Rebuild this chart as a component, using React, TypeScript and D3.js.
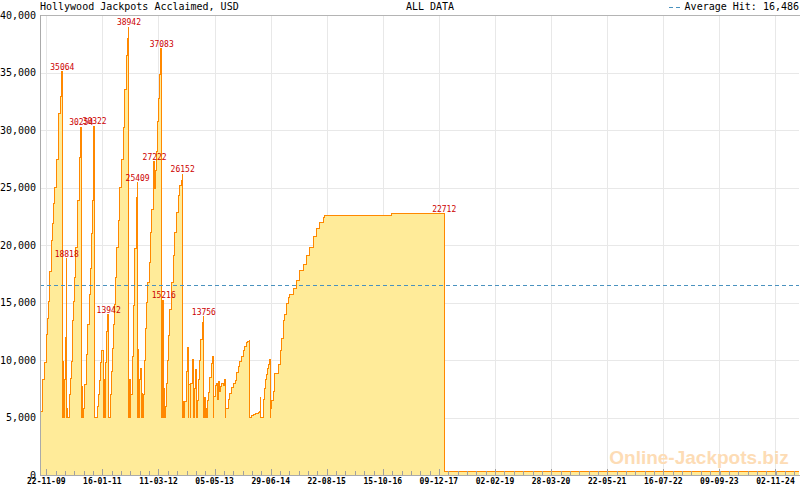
import React, { useMemo } from 'react';
import * as d3 from 'd3';

// jackpot history (date, USD)
const run2009: [string, number][] = [
  ['2009-10-06', 5500], ['2009-10-23', 7000], ['2009-10-28', 8300], ['2009-11-10', 9800],
  ['2009-11-22', 12200], ['2009-12-01', 13600], ['2009-12-10', 15100], ['2009-12-18', 17700],
  ['2009-12-29', 20400], ['2010-01-09', 21900], ['2010-01-16', 23600], ['2010-01-24', 25000],
  ['2010-02-05', 27400], ['2010-02-18', 29700], ['2010-02-25', 31400], ['2010-03-07', 32900],
  ['2010-03-14', 34300], ['2010-03-19', 35064],
  ['2010-03-22', 5000], ['2010-03-27', 9900], ['2010-04-01', 5000], ['2010-04-06', 8300],
  ['2010-04-13', 12000], ['2010-04-21', 18818], ['2010-04-24', 5000], ['2010-04-28', 5800],
  ['2010-05-03', 5000],
];

const run2010: [string, number][] = [
  ['2010-05-16', 7000], ['2010-05-24', 8400], ['2010-05-28', 9900], ['2010-06-05', 11600],
  ['2010-06-10', 13400], ['2010-06-17', 15100], ['2010-06-23', 17200], ['2010-06-30', 19800],
  ['2010-07-10', 22100], ['2010-07-17', 23900], ['2010-07-25', 25300], ['2010-07-30', 27600],
  ['2010-08-06', 30254],
  ['2010-08-11', 5000], ['2010-08-16', 7700], ['2010-08-22', 5000],
  ['2010-08-26', 5800], ['2010-09-05', 7900], ['2010-09-17', 10500], ['2010-09-30', 13100],
  ['2010-10-08', 15700], ['2010-10-17', 18000], ['2010-10-25', 21000], ['2010-11-01', 23900],
  ['2010-11-07', 25300], ['2010-11-12', 27600], ['2010-11-14', 30322],
  ['2010-11-19', 5000], ['2010-12-07', 5500], ['2010-12-14', 6000], ['2010-12-21', 7000],
  ['2010-12-29', 8200], ['2011-01-05', 9800], ['2011-01-13', 10800], ['2011-01-23', 5000],
  ['2011-01-28', 8300], ['2011-02-04', 5000], ['2011-02-09', 9800], ['2011-02-17', 12500],
  ['2011-02-27', 13942], ['2011-03-04', 5000],
];

const run2011: [string, number][] = [
  ['2011-03-19', 7000], ['2011-03-24', 9000], ['2011-03-31', 11000], ['2011-04-07', 13100],
  ['2011-04-15', 14800], ['2011-04-22', 17200], ['2011-05-03', 19800], ['2011-05-13', 22100],
  ['2011-05-25', 25000], ['2011-06-06', 27400], ['2011-06-21', 30200], ['2011-07-04', 33500],
  ['2011-07-17', 36500], ['2011-07-24', 38000], ['2011-07-29', 38942],
  ['2011-08-03', 5000], ['2011-08-08', 8300], ['2011-08-13', 5000],
  ['2011-08-18', 7000], ['2011-08-26', 10300], ['2011-09-04', 14700], ['2011-09-12', 17900],
  ['2011-09-17', 19700], ['2011-09-25', 21900], ['2011-09-30', 24100], ['2011-10-04', 25409],
  ['2011-10-07', 5000], ['2011-10-12', 10900], ['2011-10-17', 5000], ['2011-10-22', 8300],
  ['2011-10-30', 9300], ['2011-11-06', 5000], ['2011-11-11', 7100], ['2011-11-16', 5000],
];

const run2012: [string, number][] = [
  ['2011-11-21', 7000], ['2011-11-26', 10000], ['2011-12-06', 12700], ['2011-12-14', 15000],
  ['2011-12-21', 16700], ['2011-12-31', 18500], ['2012-01-09', 21100], ['2012-01-20', 23100],
  ['2012-01-30', 24900], ['2012-02-06', 27222], ['2012-02-11', 24900], ['2012-02-19', 26500],
  ['2012-02-26', 28100], ['2012-03-02', 30700], ['2012-03-09', 32700], ['2012-03-17', 34800],
  ['2012-03-24', 36200], ['2012-03-29', 37083],
  ['2012-04-04', 5000], ['2012-04-08', 12400], ['2012-04-13', 15216], ['2012-04-19', 5000],
  ['2012-04-23', 7500], ['2012-04-28', 5000],
  ['2012-05-04', 6000], ['2012-05-11', 8000], ['2012-05-19', 10000], ['2012-05-28', 12100],
  ['2012-06-05', 14400], ['2012-06-18', 16700], ['2012-06-30', 19100], ['2012-07-12', 21100],
  ['2012-07-25', 22800], ['2012-08-06', 24300], ['2012-08-19', 25200], ['2012-08-29', 25600],
  ['2012-09-05', 26152],
  ['2012-09-08', 5000], ['2012-09-12', 6400], ['2012-09-20', 5000], ['2012-09-25', 6400],
  ['2012-10-03', 9000], ['2012-10-12', 11060], ['2012-10-18', 5000], ['2012-10-25', 7900],
  ['2012-11-02', 5000], ['2012-11-09', 8000], ['2012-11-19', 10070], ['2012-11-26', 5000],
  ['2012-12-02', 7500], ['2012-12-14', 9200], ['2012-12-22', 5000],
];

const run2013: [string, number][] = [
  ['2012-12-26', 6500], ['2013-01-03', 8300], ['2013-01-13', 10000], ['2013-01-23', 11800],
  ['2013-02-02', 13300], ['2013-02-09', 13756],
  ['2013-02-14', 5000], ['2013-02-20', 6700], ['2013-02-24', 5000], ['2013-03-01', 5800],
  ['2013-03-07', 5000], ['2013-03-11', 6500], ['2013-03-22', 7200], ['2013-03-31', 8500],
  ['2013-04-13', 9700], ['2013-04-21', 10340], ['2013-04-25', 5000], ['2013-04-30', 6800],
  ['2013-05-10', 7800], ['2013-05-20', 8000], ['2013-05-28', 6600], ['2013-06-02', 8100],
  ['2013-06-09', 7300], ['2013-06-16', 7700], ['2013-06-27', 8000], ['2013-07-09', 7800],
  ['2013-07-19', 8300], ['2013-07-27', 5000],
  ['2013-07-29', 5800], ['2013-08-15', 6600], ['2013-08-28', 7100], ['2013-09-10', 7600],
  ['2013-09-22', 8000], ['2013-10-05', 8200], ['2013-10-17', 8900], ['2013-10-29', 9400],
  ['2013-11-11', 9900], ['2013-11-24', 10300], ['2013-12-06', 10800], ['2013-12-18', 11200],
  ['2013-12-31', 11500], ['2014-01-10', 11600], ['2014-01-20', 11710],
  ['2014-01-25', 5000], ['2014-02-09', 5150], ['2014-02-24', 5250], ['2014-03-11', 5350],
  ['2014-03-26', 5450], ['2014-04-07', 5550], ['2014-04-12', 6760], ['2014-04-17', 5000],
  ['2014-05-04', 5800], ['2014-05-09', 6600], ['2014-05-17', 7500], ['2014-05-24', 8300],
  ['2014-05-29', 8700], ['2014-06-06', 9300], ['2014-06-11', 9600], ['2014-06-18', 10070],
  ['2014-06-24', 5000],
];

const run2014: [string, number][] = [
  ['2014-06-29', 5800], ['2014-07-06', 6500], ['2014-07-18', 7300], ['2014-07-31', 8800],
  ['2014-08-25', 9600], ['2014-09-07', 10800], ['2014-09-19', 11900], ['2014-10-01', 13400],
  ['2014-10-14', 14000], ['2014-10-27', 14900], ['2014-11-08', 15400], ['2014-11-20', 15700],
  ['2014-12-15', 16200], ['2015-01-09', 16900], ['2015-02-03', 17800], ['2015-02-28', 18300],
  ['2015-03-25', 19100], ['2015-04-19', 19800], ['2015-05-14', 20700], ['2015-06-08', 21400],
  ['2015-07-03', 22000], ['2015-07-28', 22400], ['2015-08-09', 22550], ['2016-12-21', 22712],
  ['2018-01-18', 300], ['2025-04-27', 300],
];

const peakLabels = [35064, 18818, 30254, 30322, 13942, 38942, 25409, 27222, 37083, 15216, 26152, 13756, 22712];

const axisDates = [
  '2009-11-22', '2011-01-16', '2012-03-11', '2013-05-05', '2014-06-29', '2015-08-22', '2016-10-15',
  '2017-12-09', '2019-02-02', '2020-03-28', '2021-05-22', '2022-07-16', '2023-09-09', '2024-11-02',
];

const averageHit = 16486;
const chartTitle = 'Hollywood Jackpots Acclaimed, USD';
const rangeTitle = 'ALL DATA';

const parse = d3.timeParse('%Y-%m-%d');
const mono = "'DejaVu Sans Mono', monospace";

export default function App() {
  const width = 800;
  const height = 490;
  const left = 40;
  const right = 799;
  const top = 15;
  const bottom = 475;

  const data = useMemo(
    () =>
      [...run2009, ...run2010, ...run2011, ...run2012, ...run2013, ...run2014].map(([d, v]) => ({
        date: parse(d) as Date,
        value: v,
      })),
    []
  );

  const x = d3.scaleTime()
    .domain([parse('2009-10-06') as Date, parse('2025-04-27') as Date])
    .range([left, right]);
  const y = d3.scaleLinear().domain([0, 40000]).range([bottom, top]);

  const majors = axisDates.map(d => parse(d) as Date);
  const minors: Date[] = [];
  for (let k = 0; ; k++) {
    const d = d3.timeDay.offset(majors[0], k * 70);
    if (x(d) > right) break;
    minors.push(d);
  }

  const area = d3.area<{ date: Date; value: number }>()
    .x(d => x(d.date))
    .y0(y(0))
    .y1(d => y(d.value))
    .curve(d3.curveStepAfter);
  const line = d3.line<{ date: Date; value: number }>()
    .x(d => x(d.date))
    .y(d => y(d.value))
    .curve(d3.curveStepAfter);

  const fmtY = d3.format(',');
  const fmtX = d3.timeFormat('%d-%m-%y');

  const labels = peakLabels.map(v => {
    const i = data.findIndex(d => d.value === v);
    const next = data[Math.min(i + 1, data.length - 1)];
    return { v, x: x(next.date), y: y(v) - 2 };
  });

  return (
    <svg width={width} height={height} style={{ position: 'absolute', left: 0, top: 0, background: '#fff' }}>
      {/* grid */}
      {d3.range(5000, 40000, 5000).map(t => (
        <line key={'h' + t} x1={left} x2={right} y1={Math.round(y(t)) + 0.5} y2={Math.round(y(t)) + 0.5} stroke="#e8e8e8" />
      ))}
      {majors.map((d, i) => (
        <line key={'v' + i} x1={Math.round(x(d)) + 0.5} x2={Math.round(x(d)) + 0.5} y1={top} y2={bottom} stroke="#e8e8e8" />
      ))}

      <text x={699} y={464} textAnchor="middle" fontFamily="'Liberation Sans', Arial, sans-serif" fontWeight="bold" fontSize={19} fill="#fddcb5">
        Online-Jackpots.biz
      </text>

      <path d={area(data) ?? ''} fill="#ffeb99" />
      <path d={line(data) ?? ''} fill="none" stroke="#ff8800" strokeWidth={1} shapeRendering="crispEdges" />

      {/* average hit */}
      <line x1={left} x2={right} y1={Math.round(y(averageHit)) + 0.5} y2={Math.round(y(averageHit)) + 0.5}
        stroke="#4a92bf" strokeDasharray="4,3" />

      {/* frame */}
      <line x1={left} x2={width} y1={top + 0.5} y2={top + 0.5} stroke="#b4b4b4" />
      <line x1={left + 0.5} x2={left + 0.5} y1={top} y2={bottom + 1} stroke="#aaaaaa" />
      <line x1={left} x2={width} y1={bottom + 0.5} y2={bottom + 0.5} stroke="#aaaaaa" />

      {minors.map((d, i) => (
        <line key={'m' + i} x1={Math.round(x(d)) + 0.5} x2={Math.round(x(d)) + 0.5} y1={bottom - 4} y2={bottom} stroke="#a0a0a0" />
      ))}
      {majors.map((d, i) => (
        <line key={'M' + i} x1={Math.round(x(d)) + 0.5} x2={Math.round(x(d)) + 0.5} y1={bottom - 6} y2={bottom} stroke="#a0a0a0" />
      ))}

      {/* y labels */}
      {d3.range(0, 40001, 5000).map(t => (
        <text key={'yl' + t} x={36} y={y(t)} dy="0.36em" textAnchor="end" fontFamily={mono} fontSize={10} fill="#000">
          {fmtY(t)}
        </text>
      ))}
      {/* x labels */}
      {majors.map((d, i) => (
        <text key={'xl' + i} x={x(d)} y={484} textAnchor="middle" fontFamily={mono} fontWeight="bold" fontSize={8} fill="#000">
          {fmtX(d)}
        </text>
      ))}

      {/* peak labels */}
      {labels.map((l, i) => (
        <text key={'p' + i} x={l.x} y={l.y} textAnchor="middle" fontFamily={mono} fontSize={8} fill="#cc0000">
          {l.v}
        </text>
      ))}

      {/* header */}
      <text x={40} y={10} fontFamily={mono} fontSize={10} fill="#000">{chartTitle}</text>
      <text x={430} y={10} textAnchor="middle" fontFamily={mono} fontSize={10} fill="#000">{rangeTitle}</text>
      <line x1={669} x2={681} y1={7.5} y2={7.5} stroke="#4a92bf" strokeDasharray="4,3" />
      <text x={799} y={10} textAnchor="end" fontFamily={mono} fontSize={10} fill="#000">
        Average Hit: {fmtY(averageHit)}
      </text>
    </svg>
  );
}
